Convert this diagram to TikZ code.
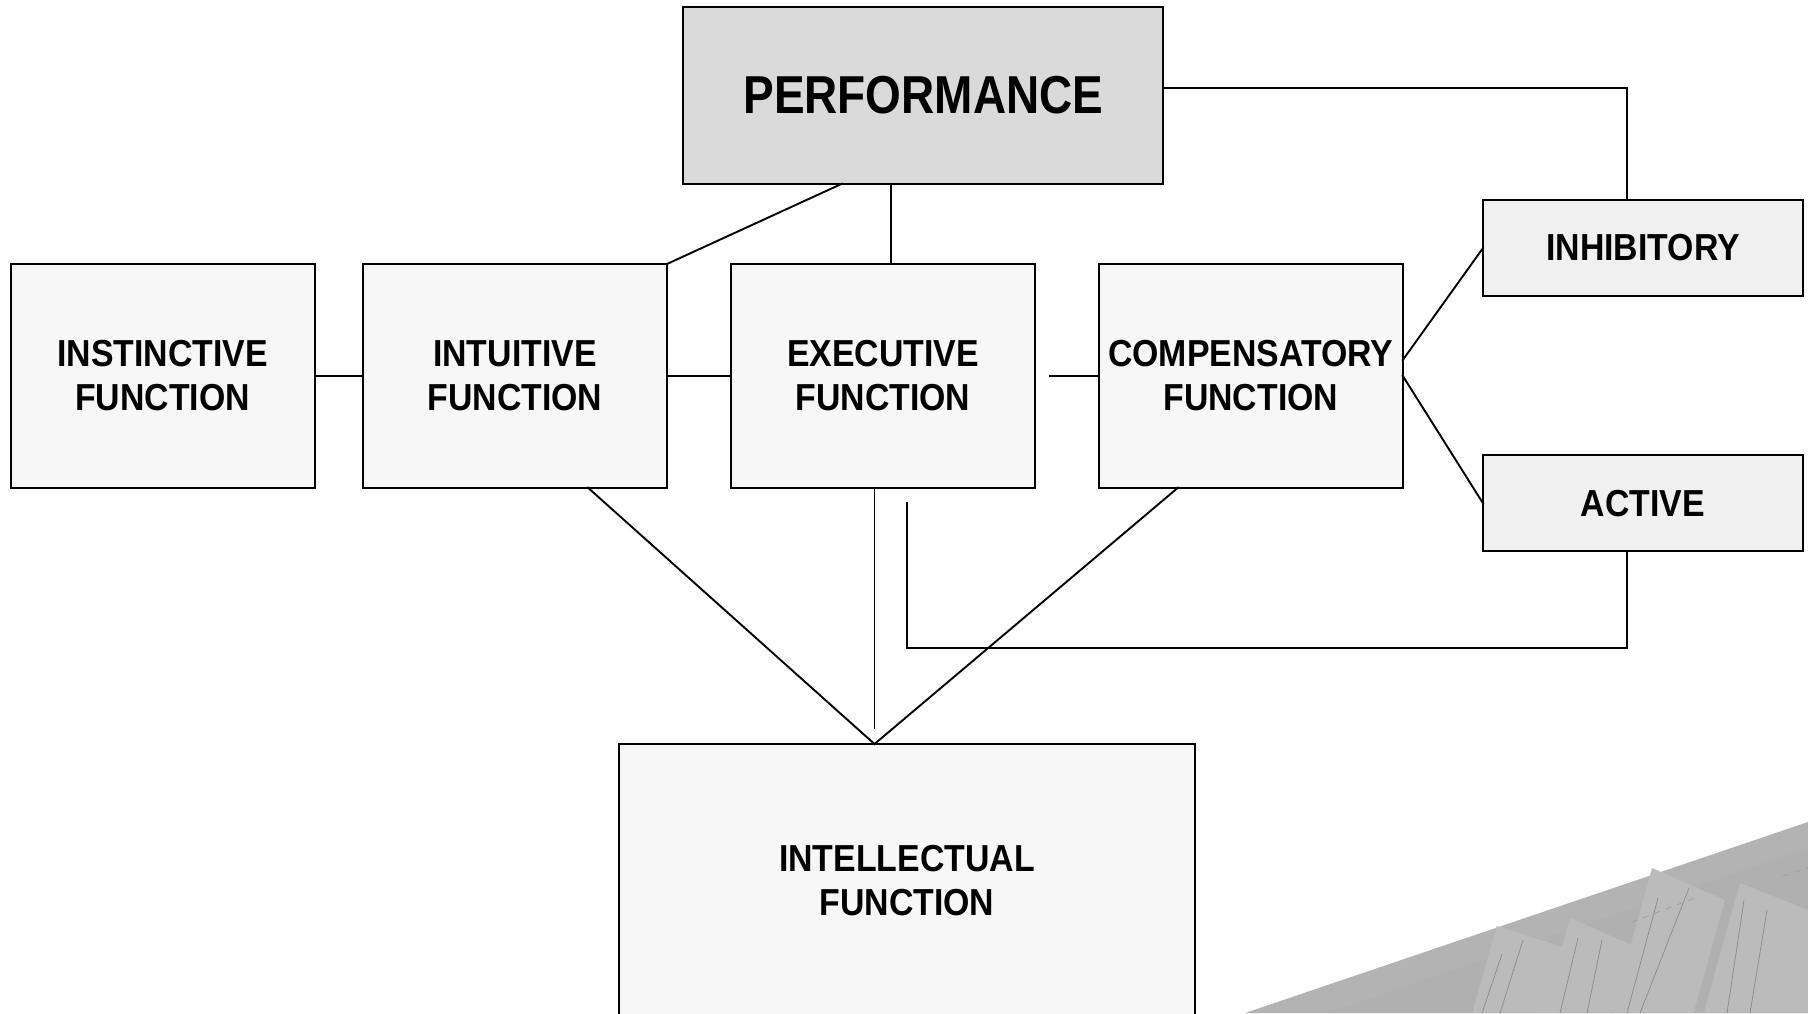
\documentclass[tikz,border=0pt]{standalone}
\usepackage{fontspec}
\newfontfamily\labfont[FakeStretch=0.9]{Liberation Sans}
\newfontfamily\perffont[FakeStretch=0.86]{Liberation Sans}
\definecolor{boxfill}{HTML}{F7F7F7}
\definecolor{perffill}{HTML}{DADADA}
\definecolor{sidefill}{HTML}{F0F0F0}
\definecolor{wedge}{HTML}{B3B3B3}
\definecolor{wedgeband}{HTML}{B0B0B0}
\definecolor{pillar}{HTML}{BBBBBB}
\definecolor{pillarline}{HTML}{8A8A8A}
\tikzset{
  box/.style={draw, line width=1pt, fill=boxfill, inner sep=0pt, outer sep=0pt, align=center,
    font=\labfont\bfseries\fontsize{18.8}{22}\selectfont},
  funcbox/.style={box, minimum width=152pt, minimum height=111.85pt},
  sidebox/.style={box, fill=sidefill, minimum width=160pt, minimum height=48pt},
  link/.style={line width=0.95pt, line cap=rect},
  thinline/.style={draw=pillarline, line width=0.35pt}
}
\begin{document}
\begin{tikzpicture}[x=0.5pt, y=-0.5pt]
\clip (0,0) rectangle (1808,1013);
\fill[white] (0,0) rectangle (1808,1013);

% decorative wedge, bottom right
\fill[wedge] (1245,1013) -- (1808,822) -- (1808,1013) -- cycle;
\fill[wedgeband] (1328,1013) -- (1808,848) -- (1808,1013) -- cycle;
\fill[pillar] (1496.7,926) -- (1563,947) -- (1544.5,1013) -- (1472.3,1013) -- cycle;
\fill[pillar] (1570,918) -- (1632,945) -- (1613,1013) -- (1543.4,1013) -- cycle;
\fill[pillar] (1652,868) -- (1725,900) -- (1693.4,1013) -- (1611.4,1013) -- cycle;
\fill[pillar] (1740,883) -- (1808,910) -- (1808,1013) -- (1703.6,1013) -- cycle;
\draw[thinline] (1502,954) -- (1482,1013) (1523,940) -- (1500,1013);
\draw[thinline] (1578,938) -- (1560,1013) (1602,940) -- (1587,1013);
\draw[thinline] (1658,898) -- (1627,1013) (1689,888) -- (1640,1013);
\draw[thinline] (1744,900) -- (1727,1013) (1767,910) -- (1750,1013);
\draw[thinline, draw=pillarline!60!pillar, dashed] (1632,922) -- (1700,896) (1783,876) -- (1808,868);

% boxes
\node[box, fill=perffill, minimum width=240pt, minimum height=88.2pt,
      font=\perffont\bfseries\fontsize{26.7}{31}\selectfont] (perf) at (923.3,95.5) {PERFORMANCE};
\node[funcbox] (inst) at (162.7,375.85) {INSTINCTIVE\\FUNCTION};
\node[funcbox] (intu) at (514.9,375.85) {INTUITIVE\\FUNCTION};
\node[funcbox] (exec) at (883,375.85) {EXECUTIVE\\FUNCTION};
\node[funcbox] (comp) at (1250.75,375.85) {COMPENSATORY\\FUNCTION};
\node[sidebox] (inhib) at (1643,248) {INHIBITORY};
\node[sidebox] (act) at (1643,503.3) {ACTIVE};
\node[box, minimum width=288.2pt, minimum height=136.5pt] (intel) at (906.9,880.5) {INTELLECTUAL\\FUNCTION};

% helper coordinates
\coordinate (apex) at ([xshift=-16.2pt]intel.north);
\coordinate (pv) at ([xshift=-16.3pt]perf.south);
\coordinate (pe) at ([yshift=3.9pt]perf.east);
\coordinate (cs) at (1050,375.85);
\coordinate (ev) at (874.5,728.3);
\coordinate (fb) at (906.6,503.3);

% connectors
\draw[link] (inst.east) -- (intu.west);
\draw[link] (intu.east) -- (exec.west);
\draw[link] (cs) -- (comp.west);
\draw[link] ([xshift=-40.65pt]perf.south) -- (intu.north east);
\draw[link] (pv) -- (pv |- exec.north);
\draw[link] (pe) -| ([xshift=-8pt]inhib.north);
\draw[link] ([yshift=7.9pt]comp.east) -- (inhib.west);
\draw[link] (comp.east) -- (act.west);
\draw[link] ([xshift=-8pt]act.south) -- ++(0,96.3) -| (fb);
\draw[link] (ev |- exec.south) -- (ev);
\draw[link] ([xshift=36.55pt]intu.south) -- (apex);
\draw[link] ([xshift=-36.4pt]comp.south) -- (apex);
\end{tikzpicture}
\end{document}
